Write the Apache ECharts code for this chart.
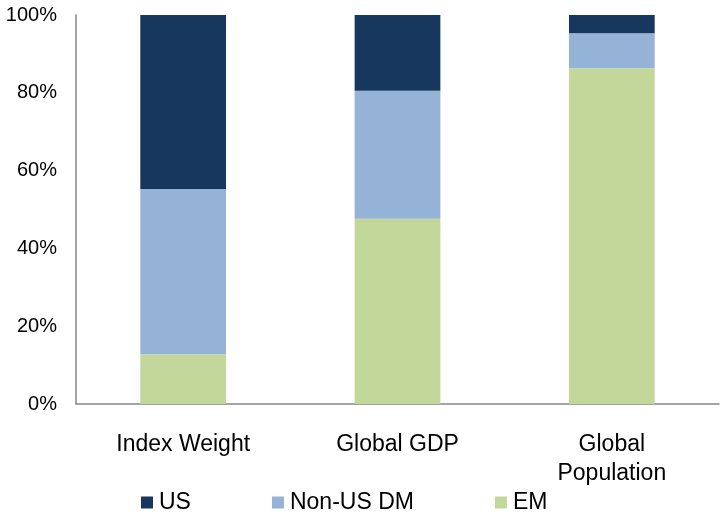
<!DOCTYPE html>
<html>
<head>
<meta charset="utf-8">
<script src="https://cdn.jsdelivr.net/npm/echarts@6/dist/echarts.min.js"></script>
<style>
  html, body { margin: 0; padding: 0; background: #fff; }
  #main { width: 720px; height: 518px; }
</style>
</head>
<body>
<div id="main"></div>
<script>
var categories = ['Index Weight', 'Global GDP', 'Global\nPopulation']
var emValues = [12.8, 47.6, 86.3]
var nonUsValues = [42.5, 32.9, 9.0]
var usValues = [44.7, 19.5, 4.7]
var yTicks = [0, 20, 40, 60, 80, 100]

var chart = echarts.init(document.getElementById('main'))
var font = 'Liberation Sans, Arial, sans-serif'

var option = {
  backgroundColor: '#fff',
  animation: false,
  grid: { left: 76, right: 1, top: 15, bottom: 114 },
  legend: {
    left: 136,
    top: 486,
    itemGap: 81,
    itemWidth: 12,
    itemHeight: 12,
    icon: 'rect',
    data: ['US', 'Non-US DM', 'EM'],
    textStyle: { fontFamily: font, fontSize: 23, color: '#000', padding: [0, 0, 0, 1] }
  },
  xAxis: {
    type: 'category',
    data: categories,
    axisLine: { lineStyle: { color: '#868686', width: 1.5 } },
    axisTick: { show: false },
    axisLabel: {
      fontFamily: font,
      fontSize: 23,
      color: '#000',
      margin: 26,
      lineHeight: 29,
      verticalAlign: 'top'
    }
  },
  yAxis: {
    type: 'value',
    min: yTicks[0],
    max: yTicks[yTicks.length - 1],
    interval: 20,
    splitLine: { show: false },
    axisTick: { show: false },
    axisLine: { show: true, lineStyle: { color: '#868686', width: 1.5 } },
    axisLabel: {
      fontFamily: font,
      fontSize: 20,
      color: '#000',
      margin: 19,
      formatter: '{value}%'
    }
  },
  series: [
    {
      name: 'EM',
      type: 'bar',
      stack: 'total',
      barWidth: '40%',
      itemStyle: { color: '#C4D79B' },
      data: emValues
    },
    {
      name: 'Non-US DM',
      type: 'bar',
      stack: 'total',
      barWidth: '40%',
      itemStyle: { color: '#95B3D7' },
      data: nonUsValues
    },
    {
      name: 'US',
      type: 'bar',
      stack: 'total',
      barWidth: '40%',
      itemStyle: { color: '#17375E' },
      data: usValues
    }
  ]
}
chart.setOption(option)
</script>
</body>
</html>
